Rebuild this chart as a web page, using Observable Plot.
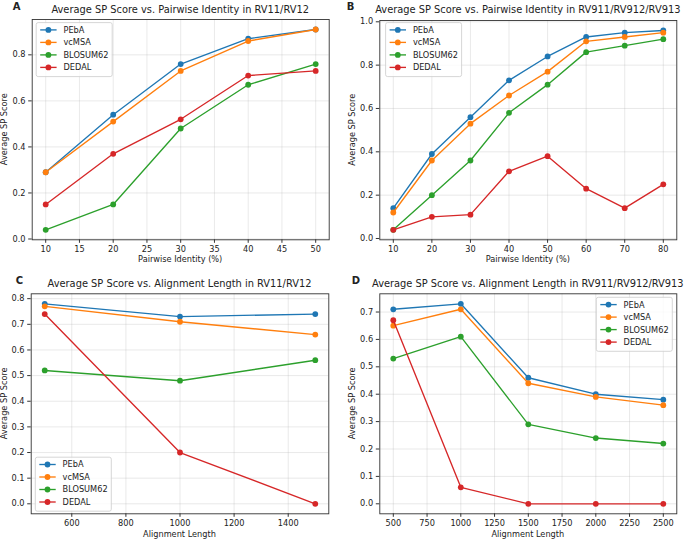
<!DOCTYPE html>
<html>
<head>
<meta charset="utf-8">
<script src="https://cdn.jsdelivr.net/npm/d3@7"></script>
<script src="https://cdn.jsdelivr.net/npm/@observablehq/plot@0.6"></script>
<style>
  html, body { margin: 0; padding: 0; background: #fff; }
  #page { position: relative; width: 685px; height: 540px; background: #fff; overflow: hidden; }
  .panel { position: absolute; }
  #overlay { position: absolute; left: 0; top: 0; pointer-events: none; }
  #overlay text { font-family: "DejaVu Sans", sans-serif; fill: #222; }
</style>
</head>
<body>
<div id="page">
  <div class="panel" id="pA" style="left:0px;top:0px"></div>
  <div class="panel" id="pB" style="left:342px;top:0px"></div>
  <div class="panel" id="pC" style="left:0px;top:270px"></div>
  <div class="panel" id="pD" style="left:342px;top:270px"></div>
  <svg id="overlay" width="685" height="540"></svg>
</div>
<script>
// ---------- data ----------
const seriesNames = ["PEbA", "vcMSA", "BLOSUM62", "DEDAL"];
const seriesColors = ["#1f77b4", "#ff7f0e", "#2ca02c", "#d62728"];

// Panel A: pairwise identity, RV11/RV12
const identityRV11 = [10, 20, 30, 40, 50];
const pebaIdRV11 = [0.29, 0.54, 0.76, 0.87, 0.91];
const vcmsaIdRV11 = [0.29, 0.51, 0.73, 0.86, 0.91];
const blosumIdRV11 = [0.04, 0.15, 0.48, 0.67, 0.76];
const dedalIdRV11 = [0.15, 0.37, 0.52, 0.71, 0.73];
const xTicksA = [10, 15, 20, 25, 30, 35, 40, 45, 50];
const yTicksA = [0.0, 0.2, 0.4, 0.6, 0.8];

// Panel B: pairwise identity, RV911/RV912/RV913
const identityRV911 = [10, 20, 30, 40, 50, 60, 70, 80];
const pebaIdRV911 = [0.14, 0.39, 0.56, 0.73, 0.84, 0.93, 0.95, 0.96];
const vcmsaIdRV911 = [0.12, 0.36, 0.53, 0.66, 0.77, 0.91, 0.93, 0.95];
const blosumIdRV911 = [0.04, 0.20, 0.36, 0.58, 0.71, 0.86, 0.89, 0.92];
const dedalIdRV911 = [0.04, 0.10, 0.11, 0.31, 0.38, 0.23, 0.14, 0.25];
const xTicksB = [10, 20, 30, 40, 50, 60, 70, 80];
const yTicksB = [0.0, 0.2, 0.4, 0.6, 0.8, 1.0];

// Panel C: alignment length, RV11/RV12
const lengthRV11 = [500, 1000, 1500];
const pebaLenRV11 = [0.78, 0.73, 0.74];
const vcmsaLenRV11 = [0.77, 0.71, 0.66];
const blosumLenRV11 = [0.52, 0.48, 0.56];
const dedalLenRV11 = [0.74, 0.20, 0.00];
const xTicksC = [600, 800, 1000, 1200, 1400];
const yTicksC = [0.0, 0.1, 0.2, 0.3, 0.4, 0.5, 0.6, 0.7, 0.8];

// Panel D: alignment length, RV911/RV912/RV913
const lengthRV911 = [500, 1000, 1500, 2000, 2500];
const pebaLenRV911 = [0.71, 0.73, 0.46, 0.40, 0.38];
const vcmsaLenRV911 = [0.65, 0.71, 0.44, 0.39, 0.36];
const blosumLenRV911 = [0.53, 0.61, 0.29, 0.24, 0.22];
const dedalLenRV911 = [0.67, 0.06, 0.00, 0.00, 0.00];
const xTicksD = [500, 750, 1000, 1250, 1500, 1750, 2000, 2250, 2500];
const yTicksD = [0.0, 0.1, 0.2, 0.3, 0.4, 0.5, 0.6, 0.7];

// ---------- drawing ----------
function drawPanel(el, cfg) {
  const rows = [];
  cfg.series.forEach((vals, i) =>
    vals.forEach((v, j) => rows.push({x: cfg.x[j], y: v, s: seriesNames[i]})));
  const marks = [
    Plot.gridX({ticks: cfg.xTicks, stroke: "#b0b0b0", strokeOpacity: 0.35, strokeWidth: 0.8}),
    Plot.gridY({ticks: cfg.yTicks, stroke: "#b0b0b0", strokeOpacity: 0.35, strokeWidth: 0.8}),
    Plot.axisX({ticks: cfg.xTicks, tickSize: 3.5, tickPadding: 2.8, tickFormat: d3.format("d"), label: null, stroke: "#333"}),
    Plot.axisY({ticks: cfg.yTicks, tickSize: 3.5, tickPadding: 3.2, tickFormat: d3.format(".1f"), label: null, stroke: "#333"})
  ];
  seriesNames.forEach(name => {
    const d = rows.filter(r => r.s === name);
    marks.push(Plot.line(d, {x: "x", y: "y", stroke: "s", strokeWidth: 1.35}));
    marks.push(Plot.dot(d, {x: "x", y: "y", fill: "s", r: 2.9}));
  });
  marks.push(Plot.frame({stroke: "#333", strokeWidth: 0.9}));
  const chart = Plot.plot({
    width: cfg.width, height: cfg.height,
    marginLeft: cfg.ml, marginRight: cfg.mr, marginTop: cfg.mt, marginBottom: cfg.mb,
    x: {domain: cfg.xDomain},
    y: {domain: cfg.yDomain},
    color: {domain: seriesNames, range: seriesColors},
    style: {fontFamily: "DejaVu Sans", fontSize: "8.2px", color: "#222", background: "transparent", overflow: "visible"},
    marks
  });
  document.getElementById(el).appendChild(chart);
}

drawPanel("pA", {
  width: 342, height: 265, ml: 31.7, mr: 13.3, mt: 19, mb: 25.7,
  x: identityRV11, series: [pebaIdRV11, vcmsaIdRV11, blosumIdRV11, dedalIdRV11],
  xDomain: [8, 52], yDomain: [-0.0035, 0.9535], xTicks: xTicksA, yTicks: yTicksA
});
drawPanel("pB", {
  width: 343, height: 265, ml: 37.3, mr: 8.7, mt: 20, mb: 25.7,
  x: identityRV911, series: [pebaIdRV911, vcmsaIdRV911, blosumIdRV911, dedalIdRV911],
  xDomain: [6.5, 83.5], yDomain: [-0.006, 1.006], xTicks: xTicksB, yTicks: yTicksB
});
drawPanel("pC", {
  width: 342, height: 270, ml: 30.7, mr: 13.7, mt: 23.3, mb: 26.7,
  x: lengthRV11, series: [pebaLenRV11, vcmsaLenRV11, blosumLenRV11, dedalLenRV11],
  xDomain: [450, 1550], yDomain: [-0.039, 0.819], xTicks: xTicksC, yTicks: yTicksC
});
drawPanel("pD", {
  width: 343, height: 270, ml: 37.3, mr: 8.7, mt: 23.3, mb: 26.7,
  x: lengthRV911, series: [pebaLenRV911, vcmsaLenRV911, blosumLenRV911, dedalLenRV911],
  xDomain: [400, 2600], yDomain: [-0.0365, 0.7665], xTicks: xTicksD, yTicks: yTicksD
});

// ---------- titles, labels, legends ----------
const ov = d3.select("#overlay");
function txt(x, y, s, opts = {}) {
  const t = ov.append("text").attr("x", x).attr("y", y).text(s)
    .style("font-size", (opts.size || 8.2) + "px")
    .attr("text-anchor", opts.anchor || "middle");
  if (opts.bold) t.style("font-weight", "bold");
  if (opts.rotate) t.attr("transform", `rotate(-90 ${x} ${y})`);
  return t;
}
const panelTitles = [
  {letter: "A", lx: 12.7, ly: 9.5, title: "Average SP Score vs. Pairwise Identity in RV11/RV12", cx: 180.2, ty: 13.4, xlabel: "Pairwise Identity (%)", xly: 262, ylx: 7.4, yly: 129.2},
  {letter: "B", lx: 346.7, ly: 9.5, title: "Average SP Score vs. Pairwise Identity in RV911/RV912/RV913", cx: 527.8, ty: 13.4, xlabel: "Pairwise Identity (%)", xly: 262, ylx: 354.8, yly: 129.7},
  {letter: "C", lx: 15.7, ly: 284.4, title: "Average SP Score vs. Alignment Length in RV11/RV12", cx: 179.5, ty: 287.3, xlabel: "Alignment Length", xly: 537, ylx: 7.2, yly: 403.3},
  {letter: "D", lx: 351.7, ly: 284.4, title: "Average SP Score vs. Alignment Length in RV911/RV912/RV913", cx: 527.8, ty: 287.3, xlabel: "Alignment Length", xly: 537, ylx: 354.8, yly: 403.3}
];
panelTitles.forEach(p => {
  txt(p.lx, p.ly, p.letter, {size: 10, bold: true, anchor: "start"});
  txt(p.cx, p.ty, p.title, {size: 9.85});
  txt(p.cx, p.xly, p.xlabel);
  txt(p.ylx, p.yly, "Average SP Score", {rotate: true});
});

function legend(left, top) {
  const w = 76, h = 54;
  const g = ov.append("g").attr("transform", `translate(${left},${top})`);
  g.append("rect").attr("width", w).attr("height", h).attr("rx", 2)
    .attr("fill", "#fff").attr("fill-opacity", 0.8).attr("stroke", "#cccccc").attr("stroke-width", 0.8);
  seriesNames.forEach((name, i) => {
    const cy = 7.3 + i * 12.5;
    g.append("line").attr("x1", 4).attr("x2", 20.4).attr("y1", cy).attr("y2", cy)
      .attr("stroke", seriesColors[i]).attr("stroke-width", 1.35);
    g.append("circle").attr("cx", 12.2).attr("cy", cy).attr("r", 2.9).attr("fill", seriesColors[i]);
    g.append("text").attr("x", 27.3).attr("y", cy + 3).text(name)
      .style("font-size", "8.2px").attr("text-anchor", "start");
  });
}
legend(36.2, 22.6);
legend(385.6, 22.6);
legend(35.3, 457.2);
legend(596.3, 297.3);
</script>
</body>
</html>
